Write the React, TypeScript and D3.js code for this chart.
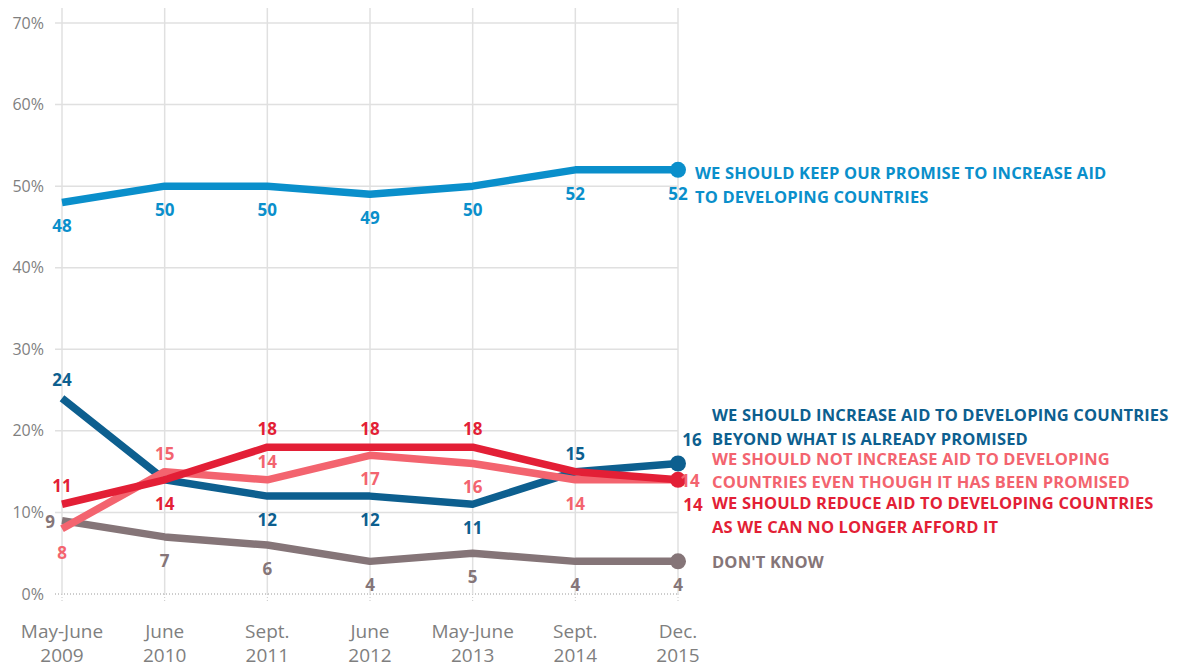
import React from "react";
import * as d3 from "d3";

const periods = [
  ["May-June", "2009"],
  ["June", "2010"],
  ["Sept.", "2011"],
  ["June", "2012"],
  ["May-June", "2013"],
  ["Sept.", "2014"],
  ["Dec.", "2015"],
];
const yTicks = [0, 10, 20, 30, 40, 50, 60, 70];

const keepPromise = [48, 50, 50, 49, 50, 52, 52];
const increaseBeyond = [24, 14, 12, 12, 11, 15, 16];
const notIncrease = [8, 15, 14, 17, 16, 14, 14];
const reduceAid = [11, 14, 18, 18, 18, 15, 14];
const dontKnow = [9, 7, 6, 4, 5, 4, 4];

// label placement per point: a = above, b = below, l = left, r = right, n = none
const keepPos = ["b", "b", "b", "b", "b", "b", "b"];
const increasePos = ["a", "n", "b", "b", "b", "a", "r"];
const notIncPos = ["b", "a", "a", "b", "b", "b", "r"];
const reducePos = ["a", "b", "a", "a", "a", "n", "r"];
const dkPos = ["l", "b", "b", "b", "b", "b", "b"];

const keepLegend = ["WE SHOULD KEEP OUR PROMISE TO INCREASE AID", "TO DEVELOPING COUNTRIES"];
const increaseLegend = ["WE SHOULD INCREASE AID TO DEVELOPING COUNTRIES", "BEYOND WHAT IS ALREADY PROMISED"];
const notIncLegend = ["WE SHOULD NOT INCREASE AID TO DEVELOPING", "COUNTRIES EVEN THOUGH IT HAS BEEN PROMISED"];
const reduceLegend = ["WE SHOULD REDUCE AID TO DEVELOPING COUNTRIES", "AS WE CAN NO LONGER AFFORD IT"];
const dkLegend = ["DON'T KNOW"];

const series = [
  { name: "dk", values: dontKnow, pos: dkPos, color: "#857578", legend: dkLegend, lx: 712, ly: [562], endDot: true, endOff: [0, 0] },
  { name: "inc", values: increaseBeyond, pos: increasePos, color: "#0d5f8f", legend: increaseLegend, lx: 712, ly: [415, 439], endDot: true, endOff: [14, -23] },
  { name: "notinc", values: notIncrease, pos: notIncPos, color: "#f3646f", legend: notIncLegend, lx: 712, ly: [459, 482], endDot: false, endOff: [12, 1] },
  { name: "reduce", values: reduceAid, pos: reducePos, color: "#e31f36", legend: reduceLegend, lx: 712, ly: [503, 527], endDot: true, endOff: [15, 25] },
  { name: "keep", values: keepPromise, pos: keepPos, color: "#0a8fcb", legend: keepLegend, lx: 695, ly: [173, 197], endDot: true, endOff: [0, 0] },
];

const W = 1179;
const H = 668;
const FONT = "'Open Sans', 'Noto Sans', sans-serif";

export default function App() {
  const x = d3.scalePoint<number>().domain(d3.range(periods.length)).range([62, 678]);
  const y = d3.scaleLinear().domain([0, 70]).range([594, 23]);
  const line = d3
    .line<number>()
    .x((_, i) => x(i)!)
    .y((d) => y(d));

  return (
    <svg width={W} height={H} style={{ position: "absolute", left: 0, top: 0, background: "#fff" }}>
      {/* horizontal grid */}
      {yTicks.map((t) => (
        <g key={t}>
          {t > 0 ? (
            <line x1={55} x2={678} y1={y(t)} y2={y(t)} stroke="#e0e0e0" strokeWidth={1.5} />
          ) : (
            <line x1={55} x2={678} y1={y(t)} y2={y(t)} stroke="#9a9a9a" strokeWidth={1} strokeDasharray="1,2" />
          )}
          <text x={44} y={y(t)} dy="0.35em" textAnchor="end" fontFamily={FONT} fontSize={16} fill="#7f7f7f">
            {t}%
          </text>
        </g>
      ))}
      {/* vertical grid */}
      {periods.map((p, i) => (
        <g key={i}>
          <line x1={x(i)} x2={x(i)} y1={8} y2={594} stroke="#e0e0e0" strokeWidth={1.5} />
          <line x1={x(i)} x2={x(i)} y1={594} y2={602} stroke="#c8c8c8" strokeWidth={1} strokeDasharray="1,2" />
          <text x={x(i)} y={638} textAnchor="middle" fontFamily={FONT} fontSize={19} fill="#7f7f7f">
            {p[0]}
          </text>
          <text x={x(i)} y={662} textAnchor="middle" fontFamily={FONT} fontSize={19} fill="#7f7f7f">
            {p[1]}
          </text>
        </g>
      ))}
      {/* lines */}
      {series.map((s) => (
        <g key={s.name}>
          <path d={line(s.values)!} fill="none" stroke={s.color} strokeWidth={7.5} strokeLinejoin="round" />
          {s.endDot && <circle cx={x(s.values.length - 1)} cy={y(s.values[s.values.length - 1])} r={8} fill={s.color} />}
        </g>
      ))}
      {/* labels */}
      {series.map((s) =>
        s.values.map((v, i) => {
          const p = s.pos[i];
          if (p === "n") return null;
          let lx = x(i)!;
          let ly = y(v);
          let anchor: "middle" | "end" | "start" = "middle";
          if (p === "a") ly -= 12;
          else if (p === "b") ly += 30;
          else if (p === "l") {
            lx -= 7;
            ly += 7;
            anchor = "end";
          } else if (p === "r") {
            lx += s.endOff[0];
            ly += s.endOff[1] + 6;
          }
          return (
            <text key={s.name + i} x={lx} y={ly} textAnchor={anchor} fontFamily={FONT} fontWeight={700} fontSize={17} fill={s.color}>
              {v}
            </text>
          );
        })
      )}
      {/* legends */}
      {series.map((s) =>
        s.legend.map((t, j) => (
          <text key={s.name + "l" + j} x={s.lx} y={s.ly[j]} dy="0.35em" fontFamily={FONT} fontWeight={700} fontSize={16.5} fill={s.color} letterSpacing={0.15}>
            {t}
          </text>
        ))
      )}
    </svg>
  );
}
